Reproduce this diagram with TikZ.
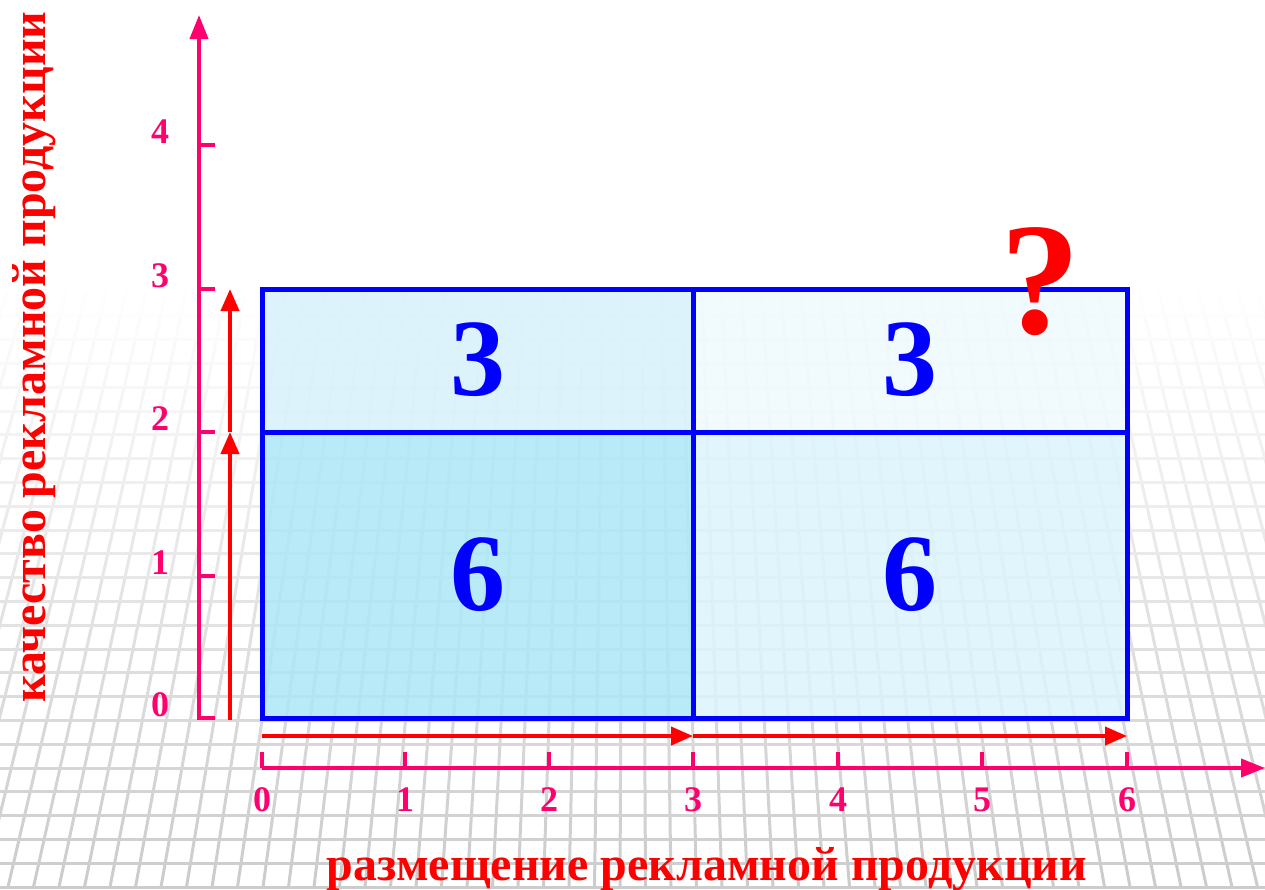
\documentclass[tikz,border=0pt]{standalone}
\usepackage{fontspec}
\setmainfont{Liberation Serif}
\usetikzlibrary{arrows.meta}
\definecolor{axmag}{RGB}{255,0,110}
\definecolor{cellBL}{RGB}{172,230,246}
\definecolor{cellTL}{RGB}{214,241,250}
\definecolor{cellBR}{RGB}{220,243,251}
\definecolor{cellTR}{RGB}{238,249,253}
\begin{document}
\begin{tikzpicture}[x=1pt,y=-1pt,
  axis/.style={draw=axmag,line width=4pt},
  axtip/.style={-{Triangle[length=24pt,width=18pt]}},
  redarr/.style={draw=red,line width=4pt,-{Triangle[length=22pt,width=18pt]}},
  cellline/.style={draw=blue,line width=5pt},
  ticklab/.style={text=axmag,font=\bfseries\fontsize{36}{40}\selectfont,inner sep=0pt},
  bignum/.style={text=blue,font=\bfseries\fontsize{110}{120}\selectfont,inner sep=0pt},
  axlab/.style={text=red,font=\bfseries\fontsize{48}{52}\selectfont,inner sep=0pt}]
\useasboundingbox (0,0) rectangle (1265,889);
% perspective floor grid
\begin{scope}
\clip (0,0) rectangle (1265,889);
\foreach \k in {0,...,24}{
  \pgfmathsetmacro\ya{887-23.8*\k}
  \pgfmathsetmacro\yb{\ya-23.8}
  \pgfmathsetmacro\c{20*(25-\k)/25}
  \pgfmathsetmacro\sa{(\ya+1800)/2687}
  \pgfmathsetmacro\sb{(\yb+1800)/2687}
  \draw[black!\c,line width=3pt] (0,\ya) -- (1265,\ya);
  \foreach \j in {-34,...,34}{
    \pgfmathsetmacro\xa{632+(25.5*\j-12)*\sa}
    \pgfmathsetmacro\xb{632+(25.5*\j-12)*\sb}
    \draw[black!\c,line width=3pt] (\xa,\ya) -- (\xb,\yb);
  }
}
\end{scope}
% cells
\coordinate (A) at (262,718);
\coordinate (B) at (693,718);
\coordinate (C) at (1127,718);
\coordinate (D) at (262,432);
\coordinate (E) at (693,432);
\coordinate (F) at (1127,432);
\coordinate (G) at (262,289);
\coordinate (H) at (693,289);
\coordinate (I) at (1127,289);
\fill[cellBL,fill opacity=0.85] (A) rectangle (E);
\fill[cellBR,fill opacity=0.85] (B) rectangle (F);
\fill[cellTL,fill opacity=0.85] (D) rectangle (H);
\fill[cellTR,fill opacity=0.85] (E) rectangle (I);
\draw[cellline] (A) rectangle (I);
\draw[cellline] (B) -- (H);
\draw[cellline] (D) -- (F);
\node[bignum] (n1) at (478,360) {3};
\node[bignum] (n2) at (910,360) {3};
\node[bignum] (n3) at (478,575) {6};
\node[bignum] (n4) at (910,575) {6};
\node[text=red,font=\bfseries\fontsize{160}{170}\selectfont,inner sep=0pt] (q) at (1040,282) {?};
% y axis
\coordinate (ybot) at (199,720);
\coordinate (ytop) at (199,15);
\draw[axis,axtip] (ybot) -- (ytop);
\foreach \v/\y in {0/718,1/576,2/432,3/289,4/145}{
  \draw[axis] (199,\y) -- (215,\y);
  \node[ticklab] (yl\v) at (160,\y-13) {\v};
}
% x axis
\coordinate (xl) at (262,768);
\coordinate (xr) at (1265,768);
\draw[axis,axtip] (xl) -- (xr);
\foreach \v/\x in {0/262,1/405,2/549,3/693,4/838,5/982,6/1127}{
  \draw[axis] (\x,768) -- (\x,752);
  \node[ticklab] (xlab\v) at (\x,800) {\v};
}
% red arrows
\coordinate (r0) at (230,720);
\coordinate (r1) at (230,432);
\coordinate (r2) at (230,289);
\draw[redarr] (r0) -- (r1);
\draw[redarr] (r1) -- (r2);
\coordinate (h0) at (262,736);
\coordinate (h1) at (693,736);
\coordinate (h2) at (1127,736);
\draw[redarr] (h0) -- (h1);
\draw[redarr] (h1) -- (h2);
% axis labels
\node[axlab,anchor=base] (xt) at (707,880) {размещение рекламной продукции};
\node[axlab,anchor=base,rotate=90] (yt) at (45,357) {качество рекламной продукции};
\end{tikzpicture}
\end{document}
